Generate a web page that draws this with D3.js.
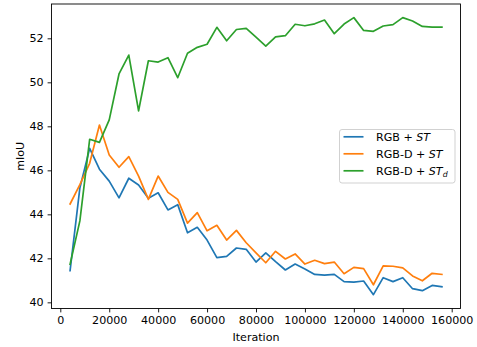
<!DOCTYPE html>
<html>
<head>
<meta charset="utf-8">
<script src="https://cdn.jsdelivr.net/npm/d3@7"></script>
<style>
  body { margin: 0; background: #fff; }
  text { font-family: "DejaVu Sans", sans-serif; fill: #000; }
</style>
</head>
<body>
<div id="chart"></div>
<script>
// ------------ DATA ------------
var iterations = [4000, 8000, 12000, 16000, 20000, 24000, 28000, 32000, 36000, 40000,
  44000, 48000, 52000, 56000, 60000, 64000, 68000, 72000, 76000, 80000,
  84000, 88000, 92000, 96000, 100000, 104000, 108000, 112000, 116000, 120000,
  124000, 128000, 132000, 136000, 140000, 144000, 148000, 152000, 156000];

var rgbST = [41.44, 45.2, 47.0, 46.05, 45.51, 44.75, 45.64, 45.33, 44.73, 44.98,
  44.2, 44.44, 43.16, 43.41, 42.83, 42.03, 42.09, 42.47, 42.41, 41.83,
  42.25, 41.85, 41.47, 41.74, 41.52, 41.27, 41.24, 41.27, 40.94, 40.92,
  40.97, 40.35, 41.12, 40.94, 41.12, 40.62, 40.53, 40.77, 40.71];

var rgbdST = [44.47, 45.35, 46.32, 48.06, 46.7, 46.14, 46.62, 45.74, 44.68, 45.74,
  45.0, 44.68, 43.6, 44.08, 43.25, 43.5, 42.83, 43.27, 42.71, 42.25,
  41.8, 42.32, 41.97, 42.2, 41.74, 41.91, 41.76, 41.83, 41.3, 41.59,
  41.53, 40.8, 41.66, 41.64, 41.57, 41.2, 40.98, 41.32, 41.27];

var rgbdSTd = [41.73, 43.7, 47.41, 47.27, 48.29, 50.38, 51.24, 48.7, 50.98, 50.92,
  51.12, 50.21, 51.32, 51.59, 51.73, 52.5, 51.89, 52.4, 52.45, 52.05,
  51.65, 52.07, 52.12, 52.64, 52.57, 52.66, 52.83, 52.21, 52.65, 52.94,
  52.36, 52.32, 52.56, 52.62, 52.94, 52.79, 52.54, 52.51, 52.51];

var xTicks = [0, 20000, 40000, 60000, 80000, 100000, 120000, 140000, 160000];
var yTicks = [40, 42, 44, 46, 48, 50, 52];

var series = [
  { name: "rgbST", values: rgbST, color: "#1f77b4" },
  { name: "rgbdST", values: rgbdST, color: "#ff7f0e" },
  { name: "rgbdSTd", values: rgbdSTd, color: "#2ca02c" }
];

var fontSize = "11.1px";

// ------------ CHART FORMATTING ------------
var svgWidth = 477;
var svgHeight = 347;

var margin = { top: 4, right: 16.5, bottom: 38.5, left: 51.5 };
var chartWidth = svgWidth - margin.left - margin.right;
var chartHeight = svgHeight - margin.top - margin.bottom;

var svg = d3.select("#chart")
  .append("svg")
  .attr("width", svgWidth)
  .attr("height", svgHeight);

var chartGroup = svg.append("g")
  .attr("transform", `translate(${margin.left}, ${margin.top})`);

// ------------ SCALES ------------
var x = d3.scaleLinear()
  .domain([-3600, 163600])
  .range([0, chartWidth]);

var y = d3.scaleLinear()
  .domain([39.72, 53.56])
  .range([chartHeight, 0]);

// ------------ LINES ------------
var line = d3.line()
  .x((d, i) => x(iterations[i]))
  .y(d => y(d));

series.forEach(function(s) {
  chartGroup.append("path")
    .datum(s.values)
    .attr("fill", "none")
    .attr("stroke", s.color)
    .attr("stroke-width", 1.7)
    .attr("stroke-linejoin", "round")
    .attr("stroke-linecap", "square")
    .attr("d", line);
});

// ------------ AXES ------------
var bottomAxis = d3.axisBottom(x)
  .tickValues(xTicks)
  .tickFormat(d3.format("d"))
  .tickSize(3.9)
  .tickPadding(4);

var leftAxis = d3.axisLeft(y)
  .tickValues(yTicks)
  .tickFormat(d3.format("d"))
  .tickSize(3.9)
  .tickPadding(4);

var xAxisG = chartGroup.append("g")
  .attr("transform", `translate(0, ${chartHeight})`)
  .call(bottomAxis);

var yAxisG = chartGroup.append("g")
  .call(leftAxis);

[xAxisG, yAxisG].forEach(function(g) {
  g.select(".domain").remove();
  g.selectAll(".tick line").attr("stroke", "#000").attr("stroke-width", 0.9);
  g.selectAll(".tick text")
    .attr("font-family", "DejaVu Sans")
    .attr("font-size", fontSize)
    .attr("fill", "#000");
});

// frame
chartGroup.append("rect")
  .attr("x", 0)
  .attr("y", 0)
  .attr("width", chartWidth)
  .attr("height", chartHeight)
  .attr("fill", "none")
  .attr("stroke", "#000")
  .attr("stroke-width", 0.9);

// ------------ LABELS ------------
svg.append("text")
  .attr("x", margin.left + x(80000))
  .attr("y", 341)
  .attr("text-anchor", "middle")
  .attr("font-size", fontSize)
  .text("Iteration");

svg.append("text")
  .attr("transform", `translate(24, ${margin.top + chartHeight / 2}) rotate(-90)`)
  .attr("text-anchor", "middle")
  .attr("font-size", fontSize)
  .text("mIoU");

// ------------ LEGEND ------------
var legend = svg.append("g")
  .attr("transform", "translate(339.5, 129.5)");

legend.append("rect")
  .attr("width", 115.5)
  .attr("height", 53.5)
  .attr("rx", 2.5)
  .attr("fill", "#fff")
  .attr("fill-opacity", 0.8)
  .attr("stroke", "#cccccc")
  .attr("stroke-width", 0.9);

var legendRows = legend.selectAll(".row")
  .data(series)
  .enter()
  .append("g")
  .attr("transform", (d, i) => `translate(0, ${7.3 + i * 17})`);

legendRows.append("line")
  .attr("x1", 4)
  .attr("x2", 24)
  .attr("y1", 0)
  .attr("y2", 0)
  .attr("stroke", d => d.color)
  .attr("stroke-width", 1.7);

var legendText = legendRows.append("text")
  .attr("x", 36.5)
  .attr("y", 4)
  .attr("font-size", fontSize);

legendText.each(function(d) {
  var t = d3.select(this);
  if (d.name == "rgbST") {
    t.append("tspan").text("RGB + ");
    t.append("tspan").attr("font-style", "italic").text("ST");
  } else if (d.name == "rgbdST") {
    t.append("tspan").text("RGB-D + ");
    t.append("tspan").attr("font-style", "italic").text("ST");
  } else {
    t.append("tspan").text("RGB-D + ");
    t.append("tspan").attr("font-style", "italic").text("ST");
    t.append("tspan").attr("font-style", "italic").attr("font-size", "7.8px")
      .attr("dy", 2).text("d");
  }
});
</script>
</body>
</html>
